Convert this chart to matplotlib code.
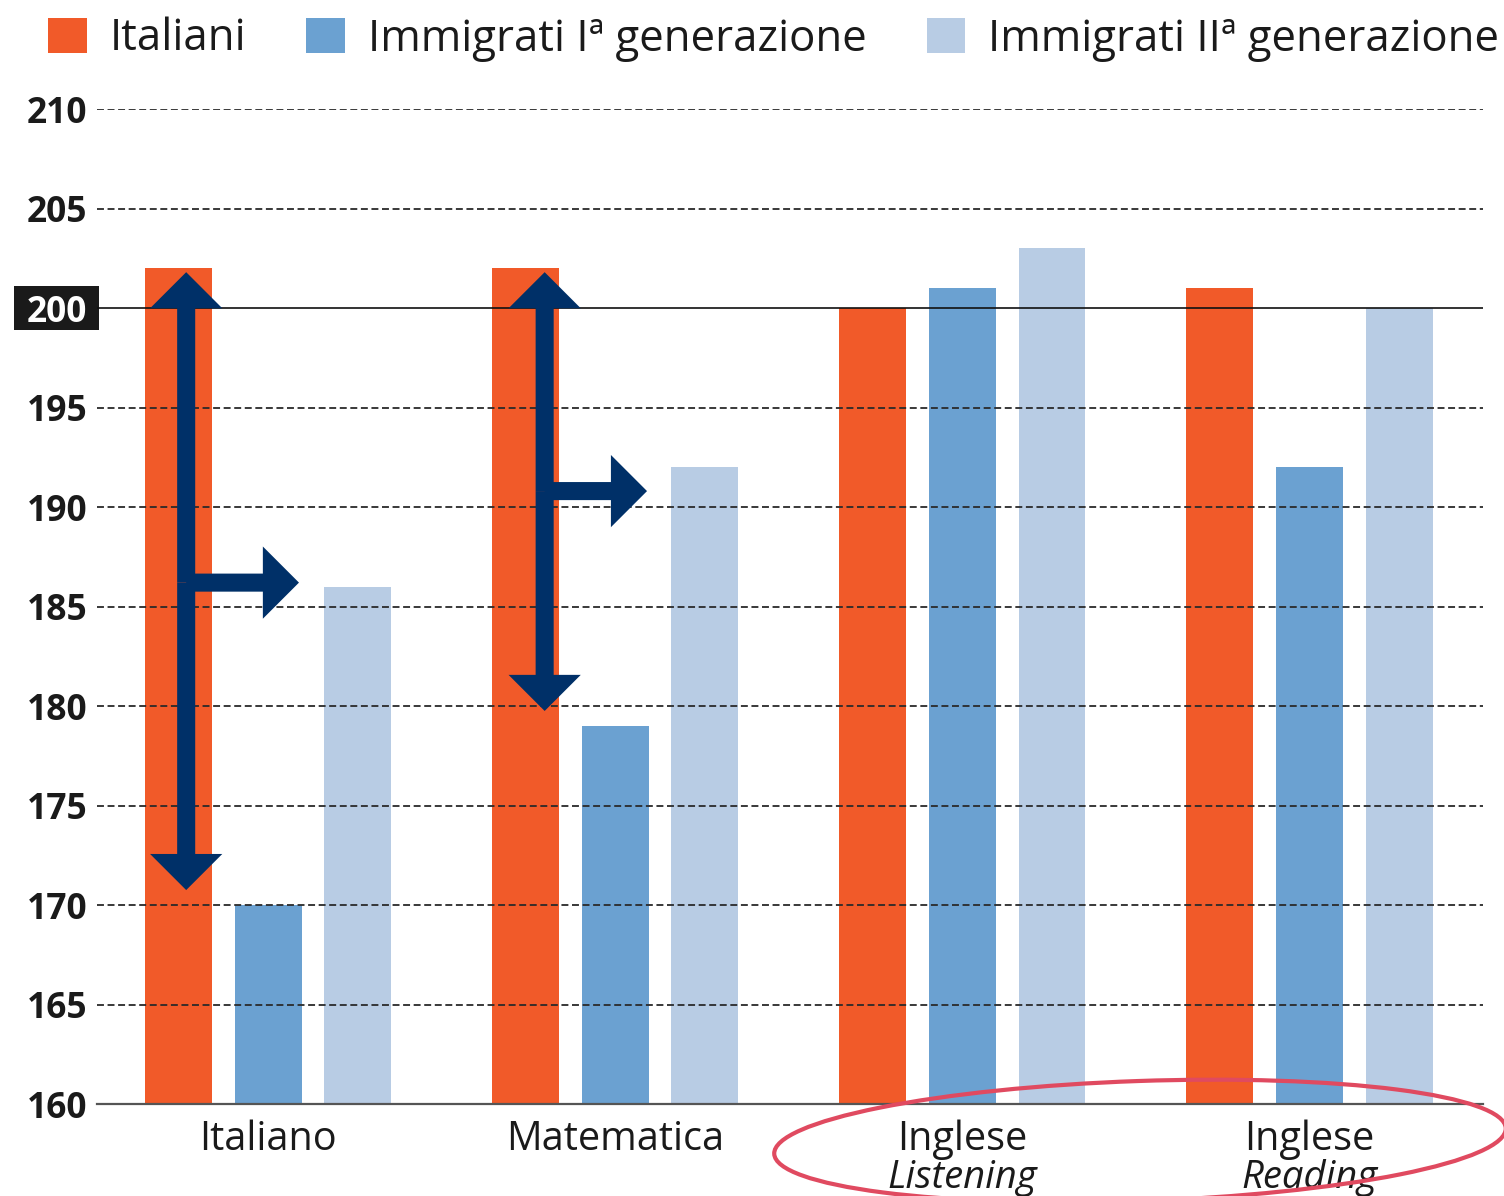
import matplotlib
matplotlib.use("Agg")
import matplotlib.pyplot as plt
import matplotlib.patches as mpatches
import matplotlib.transforms as mtransforms
import numpy as np

plt.rcParams['font.family'] = ['Open Sans', 'DejaVu Sans']
plt.rcParams['lines.scale_dashes'] = False

# data
subjects = ["Italiano", "Matematica", "Inglese", "Inglese"]
sub_notes = ["", "", "Listening", "Reading"]
series = ["Italiani", "Immigrati Iª generazione", "Immigrati IIª generazione"]
italiani = [202, 202, 200, 201]
immigrati_1 = [170, 179, 201, 192]
immigrati_2 = [186, 192, 203, 200]
colors = ["#f15a29", "#6ba1d1", "#b8cce4"]
y_ticks = list(range(160, 211, 5))

# gap arrows: shaft x, top, bottom, branch y, branch tip x
arrow_x = [-0.236, 0.797]
arrow_top = [201.8, 201.8]
arrow_bottom = [170.75, 179.75]
branch_y = [186.2, 190.8]
branch_tip = [0.089, 1.092]
navy = "#003068"

fig = plt.figure(figsize=(15.04, 11.96), dpi=100)
ax = fig.add_axes([97 / 1504, 1 - 1104 / 1196, (1483 - 97) / 1504, (1104 - 109) / 1196])

x = np.arange(len(subjects))
offset = 0.259
width = 0.193
for i, vals in enumerate([italiani, immigrati_1, immigrati_2]):
    ax.bar(x + (i - 1) * offset, vals, width=width, color=colors[i], zorder=1)

ax.set_xlim(-0.493, 3.501)
ax.set_ylim(160, 210)

# grid: dashed, 200 solid
for t in y_ticks[1:]:
    if t == 200:
        ax.axhline(t, color="#111111", lw=1.2, zorder=2)
    else:
        ax.axhline(t, color="#2a2a2a", lw=1.3, dashes=(5, 2.6), zorder=2)

for s in ["top", "right", "left"]:
    ax.spines[s].set_visible(False)
ax.spines["bottom"].set_color("#555555")
ax.spines["bottom"].set_linewidth(1.6)
ax.spines["bottom"].set_zorder(2)

ax.set_yticks(y_ticks)
ax.set_yticklabels([str(t) for t in y_ticks], fontsize=25.5, fontweight="bold", color="#1a1a1a")
ax.tick_params(axis="y", length=0, pad=7)
ax.set_xticks(x)
ax.set_xticklabels(subjects, fontsize=28.5, color="#1a1a1a")
ax.tick_params(axis="x", length=0, pad=11)

# highlighted 200 label
for lab in ax.get_yticklabels():
    if lab.get_text() == "200":
        lab.set_color("white")
box = mpatches.Rectangle((-0.0599, 198.9), 0.0613, 2.2, transform=ax.get_yaxis_transform(),
                         facecolor="#1a1a1a", edgecolor="none", clip_on=False, zorder=0.5)
ax.add_patch(box)

# italic sub-labels
trans = mtransforms.blended_transform_factory(ax.transData, ax.transAxes)
for i, note in enumerate(sub_notes):
    if note:
        ax.text(x[i], -0.0844, note, transform=trans, ha="center", va="baseline",
                fontsize=27.5, style="italic", color="#1a1a1a")

# arrows
style = mpatches.ArrowStyle.Simple(head_length=26, head_width=52, tail_width=13)
for i in range(len(arrow_x)):
    for end in [(arrow_x[i], arrow_top[i]), (arrow_x[i], arrow_bottom[i])]:
        ax.add_patch(mpatches.FancyArrowPatch((arrow_x[i], branch_y[i]), end, arrowstyle=style,
                                              mutation_scale=1, color=navy, lw=0,
                                              shrinkA=0, shrinkB=0, zorder=4))
    ax.add_patch(mpatches.FancyArrowPatch((arrow_x[i], branch_y[i]), (branch_tip[i], branch_y[i]),
                                          arrowstyle=style, mutation_scale=1, color=navy, lw=0,
                                          shrinkA=0, shrinkB=0, zorder=4))

# legend
handles = [mpatches.Patch(facecolor=c, edgecolor="none") for c in colors]
fig.legend(handles, series, loc="upper left", bbox_to_anchor=(48 / 1504, 1 - 17 / 1196), ncol=3,
           frameon=False, fontsize=31.5, handlelength=0.88, handleheight=0.88, handletextpad=0.53,
           columnspacing=1.37, borderpad=0, borderaxespad=0, labelcolor="#1a1a1a")

# red ellipse around the English results
ell = mpatches.Ellipse((11.40, 0.55), 7.32, 1.2, angle=2.0, transform=fig.dpi_scale_trans,
                       fill=False, edgecolor="#e04a60", lw=3)
fig.add_artist(ell)

fig.savefig("out.png", dpi=100)
